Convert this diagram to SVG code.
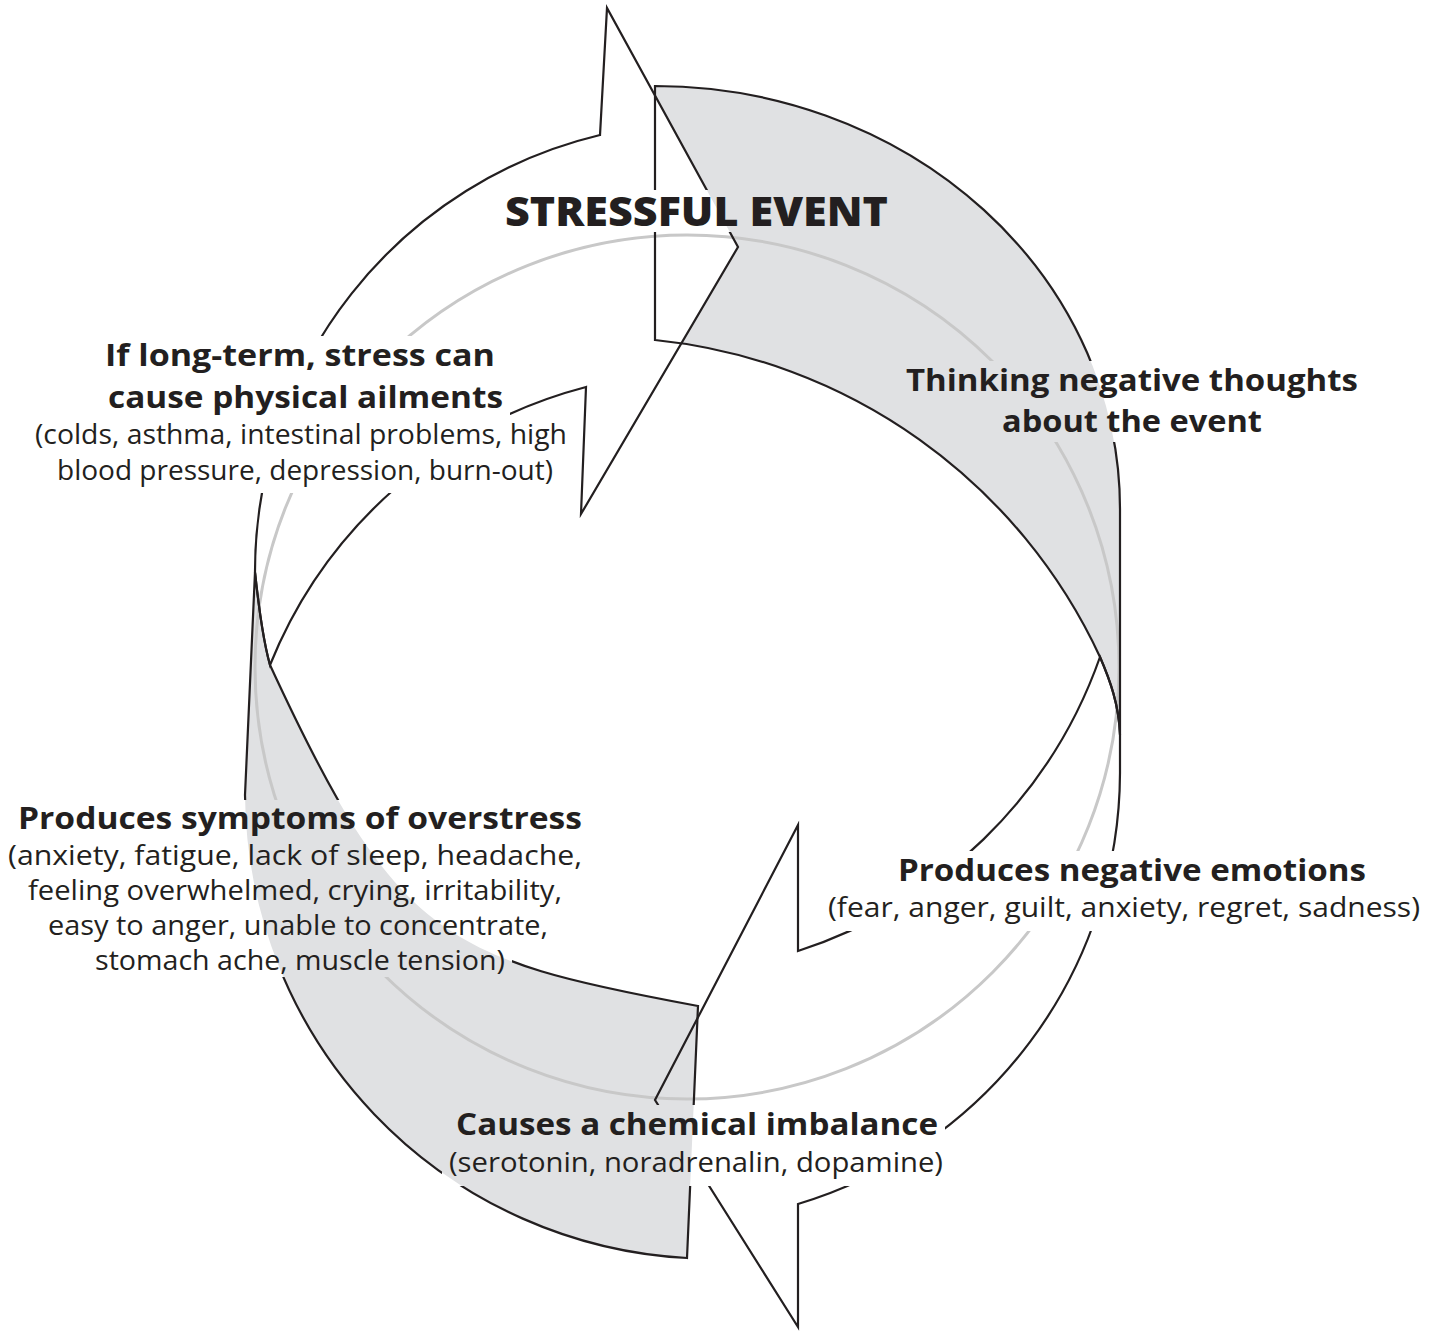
<svg xmlns="http://www.w3.org/2000/svg" width="1438" height="1332" viewBox="0 0 1438 1332">
  <style>
    .ribbon { fill: #e0e1e3; stroke: none; }
    .blank { fill: #ffffff; stroke: none; }
    .edge { fill: none; stroke: #231f20; stroke-width: 2.2; stroke-linejoin: miter; stroke-miterlimit: 10; }
    .track { fill: none; stroke: #c8c8c8; stroke-width: 3; }
    .title { font-family: "Open Sans", "Liberation Sans", sans-serif; font-weight: 800; font-size: 40px; fill: #231f20; }
    .hd { font-family: "Open Sans", "Liberation Sans", sans-serif; font-weight: 700; font-size: 30px; fill: #231f20; }
    .bd { font-family: "Open Sans", "Liberation Sans", sans-serif; font-weight: 400; font-size: 27.5px; fill: #231f20; }
    .cut { fill: #000000; }
  </style>
  <defs>
    <!-- outline strokes stop short of every label line -->
    <mask id="text-knockout" maskUnits="userSpaceOnUse" x="0" y="0" width="1438" height="1332">
      <rect x="0" y="0" width="1438" height="1332" fill="#ffffff"/>
      <!-- title -->
      <rect class="cut" x="498" y="190" width="397" height="42"/>
      <!-- long-term ailments -->
      <rect class="cut" x="98" y="336" width="404" height="44"/>
      <rect class="cut" x="101" y="378" width="409" height="44"/>
      <rect class="cut" x="28" y="415" width="546" height="43"/>
      <rect class="cut" x="50" y="451" width="510" height="42"/>
      <!-- negative thoughts -->
      <rect class="cut" x="899" y="361" width="466" height="44"/>
      <rect class="cut" x="995" y="402" width="274" height="40"/>
      <!-- negative emotions -->
      <rect class="cut" x="891" y="851" width="482" height="44"/>
      <rect class="cut" x="821" y="888" width="606" height="43"/>
      <!-- chemical imbalance -->
      <rect class="cut" x="449" y="1105" width="496" height="44"/>
      <rect class="cut" x="442" y="1143" width="508" height="43"/>
      <!-- overstress -->
      <rect class="cut" x="11" y="800" width="578" height="44"/>
      <rect class="cut" x="1" y="836" width="588" height="43"/>
      <rect class="cut" x="21" y="871" width="548" height="43"/>
      <rect class="cut" x="41" y="906" width="514" height="43"/>
      <rect class="cut" x="88" y="941" width="424" height="36"/>
    </mask>
    <path id="ribbon-right" d="M655,86 A465,423 0 0 1 1120,509 L1120,735 C1119,705 1110,680 1100,657 A552,552 0 0 0 655,340 Z"/>
    <path id="arrow-top" d="M255,572 A449,449 0 0 1 600,135 L607,8 L738,247 L581,514 L586,387 A468,468 0 0 0 270,665 C263,640 259,610 255,572 Z"/>
    <path id="arrow-bottom" d="M1100,657 C1110,680 1119,705 1120,735 L1120,773 A451.5,451.5 0 0 1 798,1204 L798,1327 L655,1100 L798,825 L798,951 A474,474 0 0 0 1100,657 Z"/>
    <path id="ribbon-left" d="M255,572 L245,795 A467,467 0 0 0 687,1258 L698,1006 C443,959 396,938 270,665 C263,640 259,610 255,572 Z"/>
  </defs>

  <!-- the cycle: two shaded ribbons and two open arrows -->
  <g id="connectors">
    <g id="cycle-fills">
      <use href="#ribbon-right" class="ribbon"/>
      <use href="#arrow-top" class="blank"/>
      <use href="#arrow-bottom" class="blank"/>
      <use href="#ribbon-left" class="ribbon"/>
    </g>
    <g id="cycle-lines" mask="url(#text-knockout)">
      <circle class="track" cx="687" cy="667" r="432"/>
      <use href="#ribbon-right" class="edge"/>
      <use href="#arrow-top" class="edge"/>
      <use href="#arrow-bottom" class="edge"/>
      <use href="#ribbon-left" class="edge"/>
    </g>
  </g>

  <g id="node-stressful-event">
    <text class="title" x="696.5" y="226" text-anchor="middle" textLength="383" lengthAdjust="spacingAndGlyphs">STRESSFUL EVENT</text>
  </g>

  <g id="node-negative-thoughts">
    <text class="hd" x="1132" y="391" text-anchor="middle" textLength="452" lengthAdjust="spacingAndGlyphs">Thinking negative thoughts</text>
    <text class="hd" x="1132" y="432" text-anchor="middle" textLength="260" lengthAdjust="spacingAndGlyphs">about the event</text>
  </g>

  <g id="node-negative-emotions">
    <text class="hd" x="1132" y="881" text-anchor="middle" textLength="468" lengthAdjust="spacingAndGlyphs">Produces negative emotions</text>
    <text class="bd" x="1124" y="917" text-anchor="middle" textLength="592" lengthAdjust="spacingAndGlyphs">(fear, anger, guilt, anxiety, regret, sadness)</text>
  </g>

  <g id="node-chemical-imbalance">
    <text class="hd" x="697" y="1135" text-anchor="middle" textLength="482" lengthAdjust="spacingAndGlyphs">Causes a chemical imbalance</text>
    <text class="bd" x="696" y="1172" text-anchor="middle" textLength="494" lengthAdjust="spacingAndGlyphs">(serotonin, noradrenalin, dopamine)</text>
  </g>

  <g id="node-overstress">
    <text class="hd" x="300" y="829" text-anchor="middle" textLength="564" lengthAdjust="spacingAndGlyphs">Produces symptoms of overstress</text>
    <text class="bd" x="295" y="865" text-anchor="middle" textLength="574" lengthAdjust="spacingAndGlyphs">(anxiety, fatigue, lack of sleep, headache,</text>
    <text class="bd" x="295" y="900" text-anchor="middle" textLength="534" lengthAdjust="spacingAndGlyphs">feeling overwhelmed, crying, irritability,</text>
    <text class="bd" x="298" y="935" text-anchor="middle" textLength="500" lengthAdjust="spacingAndGlyphs">easy to anger, unable to concentrate,</text>
    <text class="bd" x="300" y="970" text-anchor="middle" textLength="410" lengthAdjust="spacingAndGlyphs">stomach ache, muscle tension)</text>
  </g>

  <g id="node-physical-ailments">
    <text class="hd" x="300" y="366" text-anchor="middle" textLength="390" lengthAdjust="spacingAndGlyphs">If long-term, stress can</text>
    <text class="hd" x="305.5" y="408" text-anchor="middle" textLength="395" lengthAdjust="spacingAndGlyphs">cause physical ailments</text>
    <text class="bd" x="301" y="444" text-anchor="middle" textLength="532" lengthAdjust="spacingAndGlyphs">(colds, asthma, intestinal problems, high</text>
    <text class="bd" x="305" y="480" text-anchor="middle" textLength="496" lengthAdjust="spacingAndGlyphs">blood pressure, depression, burn-out)</text>
  </g>
</svg>
